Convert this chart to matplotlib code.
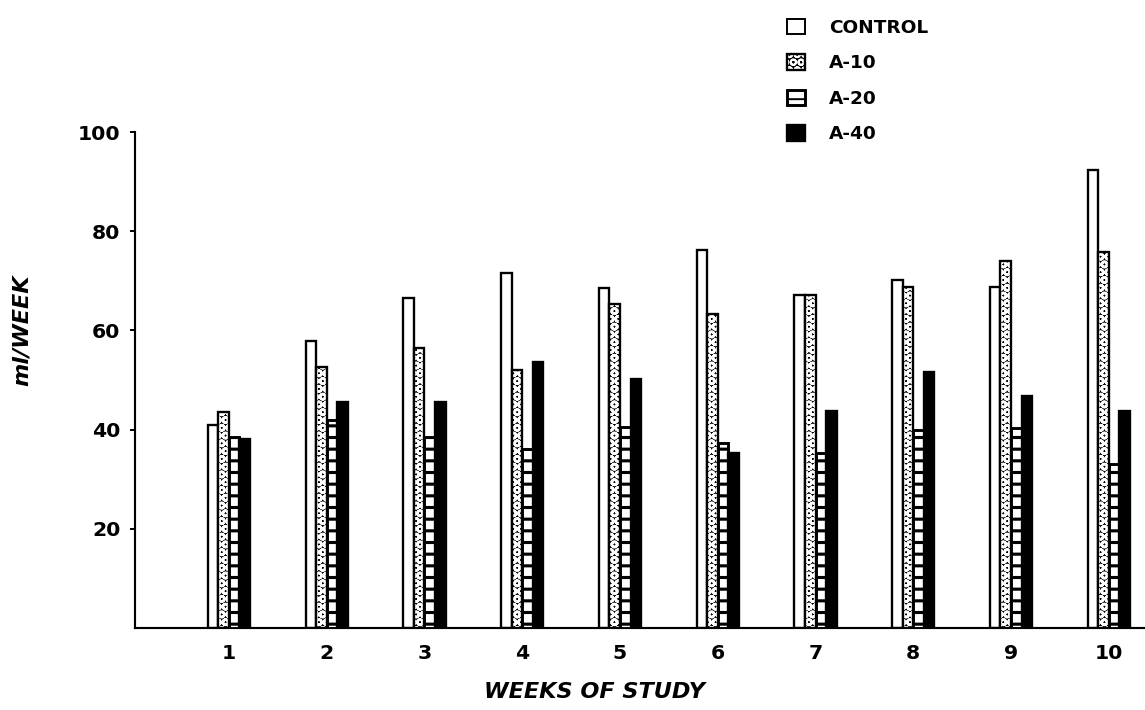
import numpy as np
import matplotlib.pyplot as plt
from matplotlib.patches import Patch

plt.rcParams['font.family'] = ['DejaVu Sans']

weeks = [1, 2, 3, 4, 5, 6, 7, 8, 9, 10]
control = [40.9, 57.9, 66.6, 71.5, 68.5, 76.2, 67.1, 70.2, 68.7, 92.3]
a10 = [43.5, 52.6, 56.4, 52.0, 65.3, 63.4, 67.1, 68.8, 73.9, 75.8]
a20 = [38.6, 41.9, 38.6, 36.1, 40.6, 37.2, 35.2, 40.0, 40.3, 33.1]
a40 = [38.2, 45.5, 45.6, 53.6, 50.3, 35.2, 43.8, 51.7, 46.8, 43.8]
labels = ['CONTROL', 'A-10', 'A-20', 'A-40']

dpi = 140
fig = plt.figure(figsize=(1145 / dpi, 710 / dpi), dpi=dpi)
ax = fig.add_axes([135 / 1145, 82 / 710, 1 - 135 / 1145, 496 / 710])

x = np.array(weeks, dtype=float)
w = 0.108
offs = [-1.5 * w, -0.5 * w, 0.5 * w, 1.5 * w]

# CONTROL: open bars
ax.bar(x + offs[0], control, width=w, facecolor='white', edgecolor='black',
       linewidth=1.2, zorder=2)
h_ctrl = Patch(facecolor='white', edgecolor='black', linewidth=1.0)

# A-10: white rings on black, then a black outline on top
with plt.rc_context({'hatch.linewidth': 1.3}):
    ax.bar(x + offs[1], a10, width=w, facecolor='black', edgecolor='white',
           hatch='OOO', linewidth=0, zorder=3)
    h_a10_fill = Patch(facecolor='black', edgecolor='white', hatch='OOO', linewidth=0)
ax.bar(x + offs[1], a10, width=w, facecolor='none', edgecolor='black',
       linewidth=1.2, zorder=3.5)
h_a10 = (h_a10_fill, Patch(facecolor='none', edgecolor='black', linewidth=1.2))

# A-20: ladder pattern
with plt.rc_context({'hatch.linewidth': 1.6}):
    ax.bar(x + offs[2], a20, width=w, facecolor='white', edgecolor='black',
           hatch='--', linewidth=1.5, zorder=4)
    h_a20 = Patch(facecolor='white', edgecolor='black', hatch='--', linewidth=1.5)

# A-40: solid black
ax.bar(x + offs[3], a40, width=w, facecolor='black', edgecolor='black',
       linewidth=1.2, zorder=5)
h_a40 = Patch(facecolor='black', edgecolor='black', linewidth=1.2)

ax.set_xlim(0.04, 10.37)
ax.set_ylim(0, 100)
ax.set_yticks([20, 40, 60, 80, 100])
ax.set_xticks(weeks)
ax.set_xticklabels([str(v) for v in weeks])

for side in ['top', 'right']:
    ax.spines[side].set_visible(False)
ax.spines['left'].set_linewidth(1.1)
ax.spines['bottom'].set_linewidth(1.1)

ax.tick_params(axis='y', length=2.5, width=1.0, pad=5, labelsize=10.5)
ax.tick_params(axis='x', length=0, pad=8, labelsize=10.5)
for t in ax.get_xticklabels() + ax.get_yticklabels():
    t.set_fontweight('bold')

fig.text(595 / 1145, 1 - 692 / 710, 'WEEKS OF STUDY', ha='center', va='center',
         fontsize=11.5, fontweight='bold', fontstyle='italic')
fig.text(22 / 1145, 1 - 330 / 710, 'ml/WEEK', ha='center', va='center',
         rotation=90, fontsize=11.5, fontweight='bold', fontstyle='italic')

fig.legend(handles=[h_ctrl, h_a10, h_a20, h_a40], labels=labels, loc='upper left',
           bbox_to_anchor=(770 / 1145, 1 - 2 / 710), frameon=False,
           prop={'weight': 'bold', 'size': 9.5},
           handlelength=1.0, handleheight=0.9, handletextpad=1.3,
           labelspacing=0.95)

fig.savefig('out.png', dpi=dpi)
